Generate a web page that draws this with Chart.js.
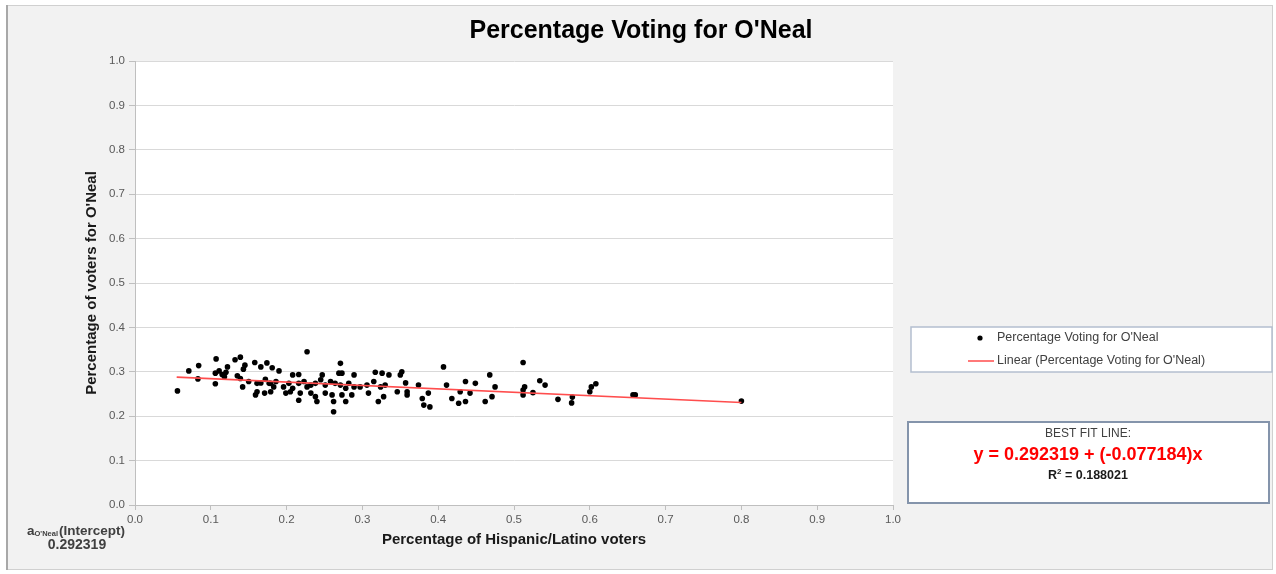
<!DOCTYPE html>
<html><head><meta charset="utf-8">
<script src="https://cdn.jsdelivr.net/npm/chart.js@4.4.1/dist/chart.umd.min.js"></script>
<style>html,body{margin:0;padding:0;background:#fff;overflow:hidden}#wrap{width:1276px;height:574px;position:relative}</style>
</head><body><div id="wrap"><canvas id="c" width="1276" height="574"></canvas></div>
<script>
const chartTitle = "Percentage Voting for O'Neal";
const seriesName = "Percentage Voting for O'Neal";
const trendName = "Linear (Percentage Voting for O'Neal)";
const xAxisTitle = "Percentage of Hispanic/Latino voters";
const yAxisTitle = "Percentage of voters for O'Neal";
const hispanicShare = [
0.056,0.071,0.084,0.083,0.107,0.106,0.106,0.111,0.115,0.118,0.122,0.120,0.132,0.139,0.145,0.143,0.135,0.139,0.142,0.158,0.166,0.174,0.181,0.190,0.161,0.166,0.172,0.177,0.183,0.161,0.159,0.171,0.179,0.150,
0.227,0.271,0.269,0.273,0.289,0.317,0.208,0.216,0.247,0.179,0.186,0.196,0.203,0.208,0.216,0.223,0.227,0.232,0.238,0.245,0.251,0.258,0.264,0.271,0.278,0.282,0.289,0.297,0.306,0.315,0.199,0.205,0.218,0.216,0.232,0.238,0.240,0.251,0.260,0.262,0.273,0.278,0.286,0.262,0.308,0.321,
0.407,0.326,0.335,0.350,0.352,0.357,0.330,0.324,0.346,0.359,0.359,0.374,0.387,0.379,0.381,0.389,0.328,0.411,0.418,0.427,0.429,0.436,0.436,0.442,0.449,0.468,0.475,0.471,0.462,
0.512,0.514,0.512,0.512,0.525,0.534,0.541,0.558,0.576,0.577,0.600,0.602,0.608,
0.657,0.660,0.800];
const oNealShare = [
0.257,0.302,0.314,0.284,0.329,0.297,0.273,0.302,0.294,0.289,0.311,0.299,0.327,0.333,0.315,0.306,0.291,0.285,0.266,0.321,0.311,0.320,0.309,0.302,0.274,0.275,0.283,0.274,0.266,0.255,0.248,0.252,0.255,0.278,
0.345,0.319,0.297,0.297,0.293,0.299,0.293,0.294,0.293,0.274,0.278,0.266,0.274,0.263,0.274,0.278,0.266,0.270,0.274,0.282,0.270,0.278,0.274,0.270,0.263,0.274,0.266,0.266,0.270,0.278,0.252,0.255,0.252,0.236,0.252,0.244,0.233,0.252,0.248,0.233,0.248,0.233,0.248,0.210,0.252,0.233,
0.311,0.297,0.293,0.293,0.300,0.275,0.270,0.266,0.255,0.255,0.248,0.270,0.252,0.240,0.225,0.221,0.244,0.270,0.240,0.229,0.255,0.278,0.233,0.252,0.274,0.293,0.266,0.244,0.233,
0.321,0.266,0.259,0.248,0.253,0.280,0.270,0.238,0.230,0.243,0.255,0.266,0.273,
0.248,0.248,0.234];
const trendX = [0.055, 0.800];
const trendY = [0.288, 0.231];
const fitHeading = "BEST FIT LINE:";
const fitEquation = "y = 0.292319 + (-0.077184)x";
const fitR2 = "0.188021";
const interceptLabel = "(Intercept)";
const interceptSub = "O'Neal";
const interceptValue = "0.292319";

const FF = "'Liberation Sans', Arial, sans-serif";
const pts = hispanicShare.map((x, i) => ({x: x, y: oNealShare[i]}));
const trend = trendX.map((x, i) => ({x: x, y: trendY[i]}));

const decor = {
  id: 'decor',
  beforeDraw(chart) {
    const ctx = chart.ctx, a = chart.chartArea;
    ctx.save();
    ctx.fillStyle = '#ffffff';
    ctx.fillRect(0, 0, chart.width, chart.height);
    ctx.fillStyle = '#f2f2f2';
    ctx.fillRect(6, 5, 1267, 565);
    ctx.strokeStyle = '#d0d0d0';
    ctx.lineWidth = 1;
    ctx.strokeRect(6.5, 5.5, 1266, 564);
    ctx.strokeStyle = '#a8a8a8';
    ctx.lineWidth = 2;
    ctx.beginPath(); ctx.moveTo(7, 5); ctx.lineTo(7, 570); ctx.stroke();
    ctx.fillStyle = '#ffffff';
    ctx.fillRect(a.left, a.top, a.right - a.left, a.bottom - a.top);
    ctx.restore();
  },
  afterDraw(chart) {
    const ctx = chart.ctx;
    const ds = chart.data.datasets;
    ctx.save();
    // Title
    ctx.fillStyle = '#000000';
    ctx.font = 'bold 25px ' + FF;
    ctx.textAlign = 'center';
    ctx.textBaseline = 'middle';
    ctx.fillText(chartTitle, 641, 31);

    // Legend box
    ctx.fillStyle = '#ffffff';
    ctx.fillRect(911, 327, 361, 45);
    ctx.strokeStyle = '#b4bfcf';
    ctx.lineWidth = 1.5;
    ctx.strokeRect(911, 327, 361, 45);
    ctx.fillStyle = '#000';
    ctx.beginPath(); ctx.arc(980, 338, 2.6, 0, Math.PI * 2); ctx.fill();
    ctx.strokeStyle = ds[1].borderColor;
    ctx.lineWidth = 1.5;
    ctx.beginPath(); ctx.moveTo(968, 361); ctx.lineTo(994, 361); ctx.stroke();
    ctx.fillStyle = '#404040';
    ctx.font = '12.5px ' + FF;
    ctx.textAlign = 'left';
    ctx.fillText(ds[0].label, 997, 338);
    ctx.fillText(ds[1].label, 997, 361);

    // Best fit box
    ctx.fillStyle = '#ffffff';
    ctx.fillRect(908, 422, 361, 81);
    ctx.strokeStyle = '#8494ab';
    ctx.lineWidth = 2;
    ctx.strokeRect(908, 422, 361, 81);
    ctx.textAlign = 'center';
    ctx.fillStyle = '#404040';
    ctx.font = '12px ' + FF;
    ctx.fillText(fitHeading, 1088, 434);
    ctx.fillStyle = '#ff0000';
    ctx.font = 'bold 18px ' + FF;
    ctx.fillText(fitEquation, 1088, 455);
    // R^2 line
    ctx.fillStyle = '#1a1a1a';
    ctx.font = 'bold 12.5px ' + FF;
    const rest = ' = ' + fitR2;
    const wR = ctx.measureText('R').width;
    const wRest = ctx.measureText(rest).width;
    ctx.font = 'bold 8px ' + FF;
    const w2 = ctx.measureText('2').width;
    const total = wR + w2 + wRest;
    let x0 = 1088 - total / 2;
    ctx.textAlign = 'left';
    ctx.font = 'bold 12.5px ' + FF;
    ctx.fillText('R', x0, 476);
    ctx.font = 'bold 8px ' + FF;
    ctx.fillText('2', x0 + wR, 472);
    ctx.font = 'bold 12.5px ' + FF;
    ctx.fillText(rest, x0 + wR + w2, 476);

    // Intercept annotation
    ctx.fillStyle = '#404040';
    ctx.font = 'bold 13.5px ' + FF;
    ctx.fillText('a', 27, 531);
    const wa = ctx.measureText('a').width;
    ctx.font = 'bold 7.5px ' + FF;
    ctx.fillText(interceptSub, 27 + wa, 534);
    const ws = ctx.measureText(interceptSub).width;
    ctx.font = 'bold 13.5px ' + FF;
    ctx.fillText(interceptLabel, 27 + wa + ws + 1, 531);
    ctx.textAlign = 'center';
    ctx.font = 'bold 14px ' + FF;
    ctx.fillText(interceptValue, 77, 545);
    ctx.restore();
  }
};

new Chart(document.getElementById('c'), {
  type: 'scatter',
  data: {
    datasets: [
      {label: seriesName, data: pts, backgroundColor: '#000000', borderColor: '#000000', pointRadius: 2.8, pointBorderWidth: 0, order: 1},
      {label: trendName, type: 'line', data: trend, borderColor: '#ff4d4d', borderWidth: 1.6, pointRadius: 0, fill: false, order: 0}
    ]
  },
  options: {
    responsive: false,
    devicePixelRatio: 1,
    animation: false,
    layout: {padding: {left: 79, right: 383, top: 61, bottom: 23}},
    plugins: {legend: {display: false}, title: {display: false}, tooltip: {enabled: false}},
    scales: {
      x: {
        type: 'linear', min: 0, max: 1,
        afterFit(s) { s.height = 46; },
        ticks: {stepSize: 0.1, padding: 3, color: '#595959', font: {family: FF, size: 11.5}, callback: v => v.toFixed(1), maxRotation: 0},
        grid: {drawOnChartArea: false, drawTicks: true, tickLength: 5, color: '#bfbfbf'},
        border: {color: '#bfbfbf'},
        title: {display: true, text: xAxisTitle, color: '#1a1a1a', font: {family: FF, size: 15, weight: 'bold'}, padding: {top: 0, bottom: 2}}
      },
      y: {
        type: 'linear', min: 0, max: 1,
        afterFit(s) { s.width = 56; },
        ticks: {stepSize: 0.1, padding: 4, color: '#595959', font: {family: FF, size: 11.5}, callback: v => v.toFixed(1)},
        grid: {color: '#d9d9d9', tickColor: '#bfbfbf', tickLength: 6},
        border: {color: '#bfbfbf'},
        title: {display: true, text: yAxisTitle, color: '#1a1a1a', font: {family: FF, size: 15, weight: 'bold'}, padding: {top: 4, bottom: 0}}
      }
    }
  },
  plugins: [decor]
});
</script>
</body></html>
